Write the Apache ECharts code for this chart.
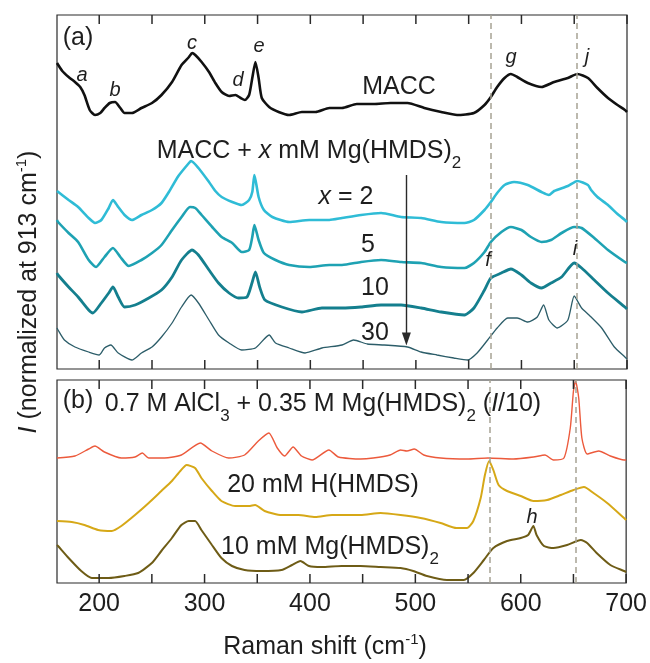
<!DOCTYPE html>
<html>
<head>
<meta charset="utf-8">
<script src="https://cdn.jsdelivr.net/npm/echarts@6/dist/echarts.min.js"></script>
<style>
  html, body { margin: 0; padding: 0; background: #fff; }
  #chart { width: 650px; height: 663px; }
</style>
</head>
<body>
<div id="chart"></div>
<script>
// Raman shift axis (cm^-1)
const shiftMin = 160;
const shiftMax = 700;
const labelTicks = [200, 300, 400, 500, 600, 700];
const minorTicks = [200, 250, 300, 350, 400, 450, 500, 550, 600, 650, 700];
const guideShifts = [571, 652];

// Panel (a): stacked spectra, offset intensity (a.u.)
const macc = [[160,306],[165,298],[171,292],[177,287],[182,282],[186,274],[191,259],[196,254],[201,256],[205,261],[210,266],[215,267],[220,261],[224,256],[231,256],[240,261],[250,266],[259,274],[269,287],[278,304],[285,312],[288,316],[291,314],[297,307],[304,297],[310,286],[316,277],[323,273],[329,274],[334,271],[338,269],[342,274],[345,291],[348,307],[351,291],[354,271],[361,262],[370,257],[380,254],[392,257],[405,257],[418,261],[430,261],[444,265],[460,265],[476,266],[492,266],[508,261],[524,257],[539,254],[555,256],[565,264],[571,272],[577,282],[584,291],[590,295],[596,292],[606,286],[619,282],[631,287],[644,291],[653,295],[663,291],[672,281],[682,271],[691,264],[698,259],[700,257]];
const mg2 = [[160,178],[171,169],[180,162],[190,151],[196,146],[202,149],[209,161],[213,169],[218,162],[224,154],[231,149],[240,154],[250,159],[259,166],[266,177],[275,193],[285,206],[287,208],[294,201],[304,187],[310,178],[316,172],[326,167],[335,164],[342,169],[345,177],[347,194],[351,172],[356,159],[364,152],[380,147],[399,149],[418,149],[430,151],[448,154],[467,156],[486,152],[505,151],[524,147],[546,146],[555,149],[565,159],[571,167],[577,176],[584,184],[593,187],[606,184],[619,177],[626,174],[631,178],[644,183],[653,188],[663,184],[666,179],[672,172],[682,164],[691,155],[698,149],[700,147]];
const mg5 = [[160,149],[161,147],[171,136],[180,127],[190,109],[197,102],[205,112],[213,121],[220,112],[228,103],[240,109],[250,116],[259,124],[269,139],[278,152],[286,162],[291,161],[297,154],[307,142],[316,132],[326,126],[335,117],[342,119],[345,132],[347,144],[351,129],[356,116],[367,109],[380,104],[399,102],[418,104],[430,104],[448,107],[467,109],[486,107],[505,106],[524,102],[546,101],[555,106],[565,117],[571,127],[581,137],[590,142],[600,139],[609,132],[619,127],[628,129],[638,136],[650,142],[657,141],[669,131],[682,119],[698,107],[700,106]];
const mg10 = [[160,96],[161,94],[171,82],[180,72],[190,59],[194,56],[202,66],[209,76],[213,82],[218,72],[224,62],[234,64],[247,71],[259,79],[269,92],[278,109],[288,119],[294,114],[304,99],[313,86],[323,76],[332,71],[340,72],[345,87],[348,97],[352,82],[357,69],[373,62],[392,57],[411,61],[430,61],[448,62],[467,64],[486,64],[505,61],[524,57],[546,54],[555,61],[565,79],[571,91],[581,96],[590,100],[600,94],[609,86],[619,81],[628,86],[638,92],[650,106],[657,101],[669,89],[682,76],[698,62],[700,60]];
const mg30 = [[160,41],[161,39],[167,29],[177,22],[190,17],[200,14],[205,21],[211,24],[218,16],[231,9],[240,16],[250,22],[259,32],[269,46],[278,62],[287,74],[294,66],[304,49],[313,34],[323,26],[335,19],[348,21],[361,34],[367,26],[380,21],[395,16],[411,21],[430,24],[441,29],[454,25],[470,24],[492,22],[505,17],[520,14],[536,11],[549,9],[558,16],[568,29],[577,41],[587,51],[596,51],[606,47],[615,52],[621,64],[626,49],[634,41],[644,49],[650,73],[657,61],[664,54],[676,41],[688,22],[698,12],[700,10]];

// Arrow marking increasing Mg(HMDS)2 concentration
const arrowShift = 491;
const arrowFrom = 194;
const arrowTo = 30;

// Panel (b): reference solutions, offset intensity (a.u.)
const alcl3 = [[160,125],[177,127],[190,134],[196,137],[205,131],[221,125],[234,126],[241,130],[247,125],[262,125],[278,128],[296,140],[307,132],[323,125],[338,128],[351,142],[361,150],[369,135],[376,127],[384,136],[392,127],[402,123],[418,133],[427,126],[448,124],[460,125],[476,128],[486,133],[492,132],[499,134],[508,128],[524,125],[549,124],[569,125],[593,124],[612,126],[623,128],[631,123],[641,125],[647,155],[650,192],[652,202],[655,185],[658,145],[663,129],[674,132],[685,127],[698,123],[700,123]];
const hhmds = [[160,62],[174,61],[186,58],[199,53],[212,52],[221,57],[234,68],[247,80],[259,92],[269,102],[277,112],[283,118],[291,115],[297,105],[307,92],[316,82],[329,77],[342,77],[348,78],[357,72],[373,68],[389,68],[405,66],[421,68],[430,68],[448,68],[467,70],[486,68],[505,65],[524,60],[539,55],[549,55],[555,62],[562,85],[566,108],[570,122],[574,113],[579,98],[587,92],[600,87],[612,82],[625,83],[638,88],[650,93],[660,96],[669,90],[682,80],[698,65],[700,63]];
const mgHmds = [[160,38],[161,37],[171,25],[183,12],[193,5],[209,5],[224,7],[237,10],[250,20],[259,32],[269,45],[278,58],[285,62],[291,62],[297,53],[307,38],[316,25],[326,17],[338,13],[354,12],[373,13],[383,18],[391,22],[399,17],[411,16],[430,17],[448,17],[467,16],[486,15],[498,12],[511,7],[530,3],[546,3],[555,10],[565,23],[574,35],[587,42],[600,45],[607,48],[612,57],[615,48],[622,37],[631,35],[644,38],[657,43],[663,40],[672,30],[685,18],[698,12],[700,11]];

// Vertical ranges of the two panels (a.u.)
const panelATop = 354;
const panelBTop = 203;

const FONT = '"Liberation Sans", Arial, Helvetica, sans-serif';
const INK = '#1e1e1e';
const FRAME = '#2a2a2a';
const TICK_PX = 9;

const rich = {
  i:   { fontFamily: FONT, fontSize: 25, fontStyle: 'italic', fill: INK },
  sub: { fontFamily: FONT, fontSize: 17, fill: INK, verticalAlign: 'bottom', lineHeight: 17 },
  sup: { fontFamily: FONT, fontSize: 15, fill: INK, verticalAlign: 'top', lineHeight: 15 }
};

function label(x, y, text, opts) {
  opts = opts || {};
  return {
    type: 'text',
    x: x, y: y,
    rotation: opts.rotation || 0,
    silent: true,
    z: 10,
    style: {
      text: text,
      fill: INK,
      fontFamily: FONT,
      fontSize: opts.size || 25,
      fontStyle: opts.italic ? 'italic' : 'normal',
      lineHeight: opts.lineHeight || 28,
      align: opts.align || 'center',
      verticalAlign: 'middle',
      rich: rich
    }
  };
}

function xAxisFor(gridIndex, withLabels) {
  return {
    type: 'value',
    gridIndex: gridIndex,
    position: 'bottom',
    min: shiftMin,
    max: shiftMax,
    axisLine: { show: false },
    splitLine: { show: false },
    axisTick: { show: false },
    axisLabel: withLabels ? {
      show: true,
      customValues: labelTicks,
      margin: 9,
      color: INK,
      fontFamily: FONT,
      fontSize: 25
    } : { show: false }
  };
}

function yAxisFor(gridIndex, max) {
  return {
    type: 'value', gridIndex: gridIndex, min: 0, max: max,
    axisLine: { show: false }, axisTick: { show: false },
    axisLabel: { show: false }, splitLine: { show: false }
  };
}

function guideMarks() {
  return {
    silent: true, symbol: 'none', animation: false,
    label: { show: false },
    lineStyle: { type: [6, 4], color: '#a7a294', width: 1.5 },
    data: guideShifts.map(v => ({ xAxis: v }))
  };
}

function spectrum(name, data, xi, yi, color, width) {
  return {
    name: name, type: 'line', data: data,
    xAxisIndex: xi, yAxisIndex: yi,
    showSymbol: false, symbol: 'none', smooth: 0.2,
    silent: true, animation: false,
    lineStyle: { color: color, width: width }
  };
}

const series = [
  Object.assign(spectrum('MACC', macc, 0, 0, '#111111', 2.6), { markLine: guideMarks() }),
  spectrum('x = 2', mg2, 0, 0, '#2fbcd6', 2.6),
  spectrum('x = 5', mg5, 0, 0, '#1ea2b3', 2.6),
  spectrum('x = 10', mg10, 0, 0, '#147f8e', 2.8),
  Object.assign(spectrum('x = 30', mg30, 0, 0, '#2c5d69', 1.3), {
    markLine: {
      silent: true, animation: false,
      label: { show: false },
      symbol: ['none', 'triangle'],
      symbolSize: [9, 13],
      lineStyle: { type: 'solid', color: '#2a2a2a', width: 1.4 },
      data: [[{ coord: [arrowShift, arrowFrom] }, { coord: [arrowShift, arrowTo] }]]
    }
  }),
  Object.assign(spectrum('0.7 M AlCl3 + 0.35 M Mg(HMDS)2', alcl3, 1, 1, '#ec5a3c', 1.4), { markLine: guideMarks() }),
  spectrum('20 mM H(HMDS)', hhmds, 1, 1, '#d6a817', 2),
  spectrum('10 mM Mg(HMDS)2', mgHmds, 1, 1, '#6e5c16', 2)
];

const texts = [
  // panel tags
  label(78, 38, '(a)'),
  label(78, 401, '(b)'),
  // band letters
  label(82, 75, 'a', { italic: true, size: 20 }),
  label(115, 90, 'b', { italic: true, size: 20 }),
  label(192, 43, 'c', { italic: true, size: 20 }),
  label(238, 80, 'd', { italic: true, size: 20 }),
  label(259, 46, 'e', { italic: true, size: 20 }),
  label(511, 57, 'g', { italic: true, size: 20 }),
  label(587, 57, 'j', { italic: true, size: 20 }),
  label(488, 260, 'f', { italic: true, size: 20 }),
  label(575, 249, 'i', { italic: true, size: 20 }),
  label(532, 517, 'h', { italic: true, size: 20 }),
  // panel (a) annotations
  label(399, 87, 'MACC'),
  label(309, 151, 'MACC + {i|x} mM Mg(HMDS){sub|2}', { lineHeight: 42 }),
  label(346, 197, '{i|x} = 2'),
  label(368, 245, '5'),
  label(375, 288, '10'),
  label(375, 333, '30'),
  // panel (b) annotations
  label(323, 404, '0.7 M AlCl{sub|3} + 0.35 M Mg(HMDS){sub|2} ({i|I}/10)', { lineHeight: 42 }),
  label(323, 485, '20 mM H(HMDS)'),
  label(330, 547, '10 mM Mg(HMDS){sub|2}', { lineHeight: 42 }),
  // axis titles
  label(325, 647, 'Raman shift (cm{sup|-1})', { size: 25, lineHeight: 30 }),
  label(29, 292, '{i|I} (normalized at 913 cm{sup|-1})', { size: 25, lineHeight: 30, rotation: Math.PI / 2 })
];

const chart = echarts.init(document.getElementById('chart'), null, { renderer: 'canvas' });
chart.setOption({
  animation: false,
  backgroundColor: '#ffffff',
  grid: [
    { left: 57, width: 570, top: 15, height: 354, show: true, borderColor: FRAME, borderWidth: 1.2, backgroundColor: 'transparent' },
    { left: 57, width: 570, top: 380, height: 203, show: true, borderColor: FRAME, borderWidth: 1.2, backgroundColor: 'transparent' }
  ],
  xAxis: [xAxisFor(0, false), xAxisFor(1, true)],
  yAxis: [yAxisFor(0, panelATop), yAxisFor(1, panelBTop)],
  series: series
});

// inward tick marks on the bottom and top edges of each panel, placed through the axis scales
function tickRects(gridIndex, top) {
  const out = [];
  minorTicks.forEach(v => {
    const b = chart.convertToPixel({ gridIndex: gridIndex }, [v, 0]);
    const t = chart.convertToPixel({ gridIndex: gridIndex }, [v, top]);
    out.push({ type: 'rect', silent: true, z: 20, shape: { x: b[0] - 0.75, y: b[1] - TICK_PX, width: 1.5, height: TICK_PX }, style: { fill: FRAME } });
    out.push({ type: 'rect', silent: true, z: 20, shape: { x: t[0] - 0.75, y: t[1], width: 1.5, height: TICK_PX }, style: { fill: FRAME } });
  });
  return out;
}

chart.setOption({
  graphic: { elements: texts.concat(tickRects(0, panelATop), tickRects(1, panelBTop)) }
});
</script>
</body>
</html>
